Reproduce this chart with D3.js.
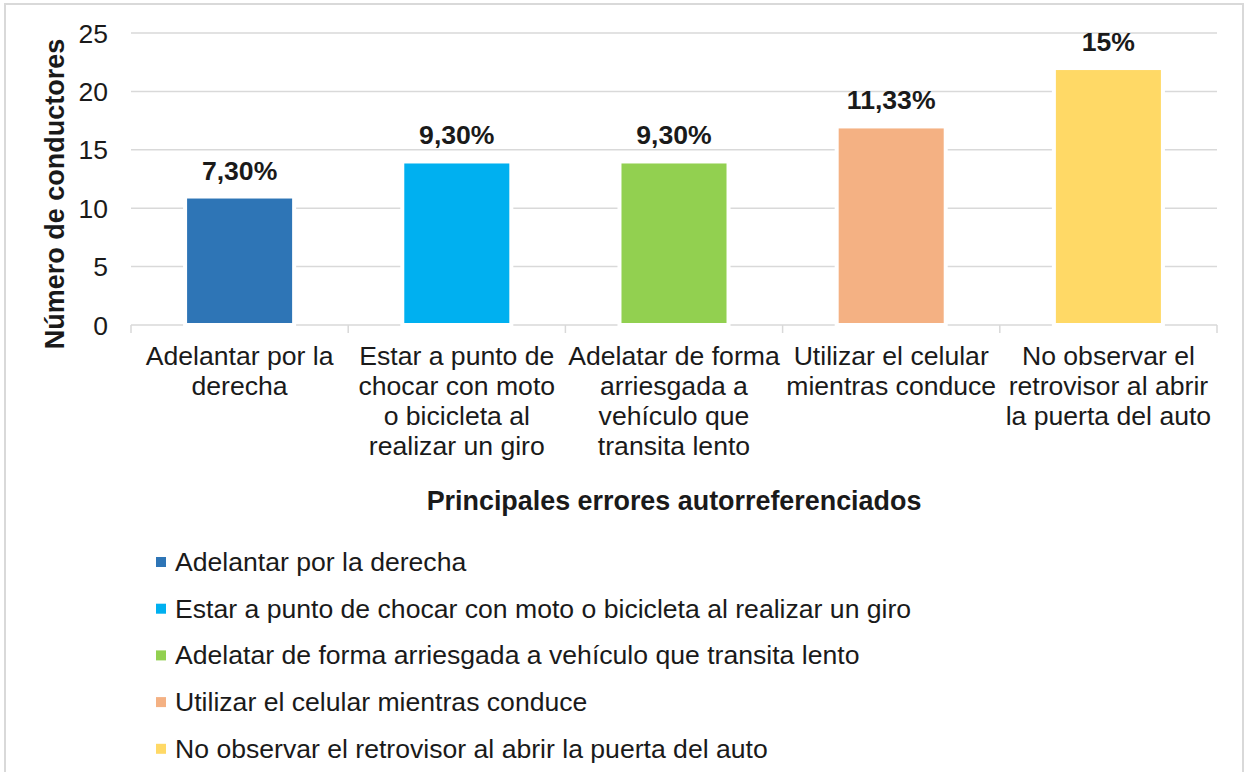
<!DOCTYPE html>
<html>
<head>
<meta charset="utf-8">
<script src="https://cdn.jsdelivr.net/npm/d3@7"></script>
<style>
html,body{margin:0;padding:0;background:#fff;}
text{font-family:"Liberation Sans",Arial,sans-serif;fill:#1a1a1a;}
</style>
</head>
<body>
<svg id="chart" width="1245" height="772"></svg>
<script>
const categories = [
  "Adelantar por la derecha",
  "Estar a punto de chocar con moto o bicicleta al realizar un giro",
  "Adelatar de forma arriesgada a vehículo que transita lento",
  "Utilizar el celular mientras conduce",
  "No observar el retrovisor al abrir la puerta del auto"
];
const categoryLines = [
  ["Adelantar por la", "derecha"],
  ["Estar a punto de", "chocar con moto", "o bicicleta al", "realizar un giro"],
  ["Adelatar de forma", "arriesgada a", "vehículo que", "transita lento"],
  ["Utilizar el celular", "mientras conduce"],
  ["No observar el", "retrovisor al abrir", "la puerta del auto"]
];
const values = [11, 14, 14, 17, 22];
const valueLabels = ["7,30%", "9,30%", "9,30%", "11,33%", "15%"];
const colors = ["#2E75B6", "#00B0F0", "#92D050", "#F4B183", "#FFD966"];
const yTicks = [0, 5, 10, 15, 20, 25];
const yTitle = "Número de conductores";
const xTitle = "Principales errores autorreferenciados";

const svg = d3.select("#chart");

// outer frame
svg.append("rect").attr("x", 5).attr("y", 4).attr("width", 1238).attr("height", 800)
  .attr("fill", "none").attr("stroke", "#D9D9D9").attr("stroke-width", 2);

const pLeft = 131, pRight = 1217, pTop = 33, pBottom = 325;

const x = d3.scaleBand().domain(categories).range([pLeft, pRight]).paddingInner(0.498).paddingOuter(0.249);
const y = d3.scaleLinear().domain([0, 25]).range([pBottom, pTop]);

// gridlines
svg.append("g").selectAll("line").data(yTicks.filter(d => d > 0)).join("line")
  .attr("x1", pLeft).attr("x2", pRight)
  .attr("y1", d => y(d)).attr("y2", d => y(d))
  .attr("stroke", "#D9D9D9").attr("stroke-width", 1.5);

// x axis baseline + ticks
svg.append("line").attr("x1", pLeft).attr("x2", pRight).attr("y1", pBottom).attr("y2", pBottom)
  .attr("stroke", "#D9D9D9").attr("stroke-width", 1.5);
const step = x.step();
svg.append("g").selectAll("line").data(d3.range(categories.length + 1)).join("line")
  .attr("x1", i => pLeft + i * step).attr("x2", i => pLeft + i * step)
  .attr("y1", pBottom).attr("y2", pBottom + 8)
  .attr("stroke", "#D9D9D9").attr("stroke-width", 1.5);

// y tick labels
svg.append("g").selectAll("text").data(yTicks).join("text")
  .attr("x", 108).attr("y", d => y(d)).attr("dy", "0.36em")
  .attr("text-anchor", "end").style("font-size", "26.5px")
  .text(d => d);

// bars (white outline like the original)
svg.append("g").selectAll("rect").data(values).join("rect")
  .attr("x", (d, i) => x(categories[i]))
  .attr("y", d => y(d))
  .attr("width", x.bandwidth())
  .attr("height", d => y(0) - y(d))
  .attr("fill", (d, i) => colors[i])
  .attr("stroke", "#fff").attr("stroke-width", 4);

// data labels
svg.append("g").selectAll("text").data(values).join("text")
  .attr("x", (d, i) => x(categories[i]) + x.bandwidth() / 2)
  .attr("y", d => y(d) - 17)
  .attr("text-anchor", "middle").style("font-size", "26.6px").style("font-weight", "bold")
  .text((d, i) => valueLabels[i]);

// category labels
const cl = svg.append("g");
categoryLines.forEach((lines, i) => {
  const cx = x(categories[i]) + x.bandwidth() / 2;
  lines.forEach((ln, j) => {
    cl.append("text").attr("x", cx).attr("y", 365 + j * 30)
      .attr("text-anchor", "middle").style("font-size", "26.6px").text(ln);
  });
});

// axis titles
svg.append("text").attr("x", (pLeft + pRight) / 2).attr("y", 510)
  .attr("text-anchor", "middle").style("font-size", "26.9px").style("font-weight", "bold")
  .text(xTitle);
svg.append("text").attr("transform", "translate(64,194) rotate(-90)")
  .attr("text-anchor", "middle").style("font-size", "27px").style("font-weight", "bold")
  .text(yTitle);

// legend
const lg = svg.append("g").selectAll("g").data(categories).join("g")
  .attr("transform", (d, i) => `translate(156,${571 + i * 46.7})`);
lg.append("rect").attr("x", 0).attr("y", -14).attr("width", 10).attr("height", 10)
  .attr("fill", (d, i) => colors[i]);
lg.append("text").attr("x", 19).attr("y", 0).style("font-size", "26.6px").text(d => d);
</script>
</body>
</html>
